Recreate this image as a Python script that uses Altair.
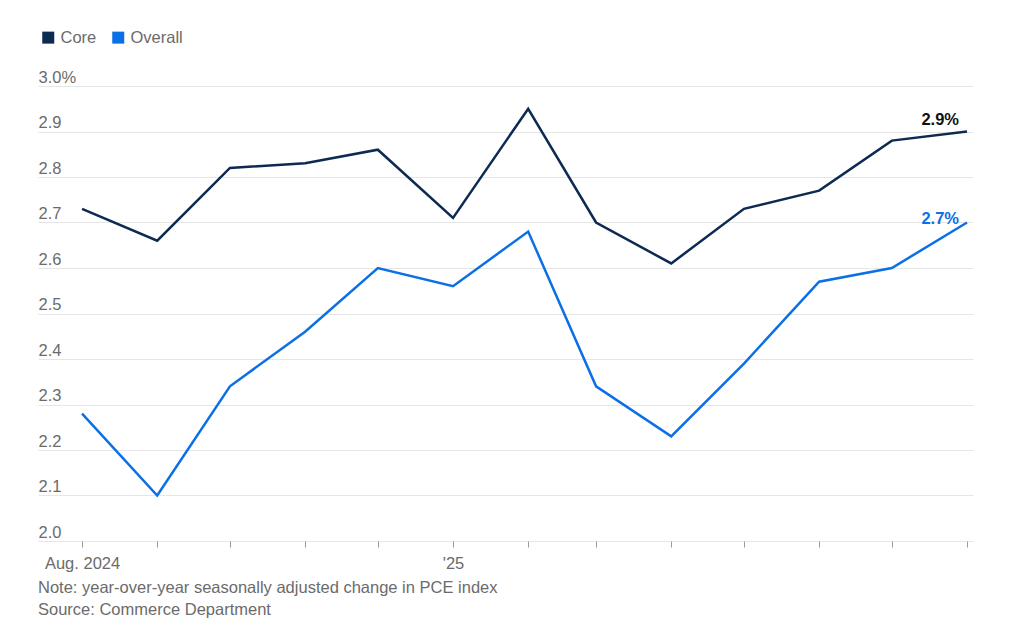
import altair as alt
import pandas as pd

# ---- data ----
months = ["2024-08-01", "2024-09-01", "2024-10-01", "2024-11-01", "2024-12-01",
          "2025-01-01", "2025-02-01", "2025-03-01", "2025-04-01", "2025-05-01",
          "2025-06-01", "2025-07-01", "2025-08-01"]
core = [2.73, 2.66, 2.82, 2.83, 2.86, 2.71, 2.95, 2.70, 2.61, 2.73, 2.77, 2.88, 2.90]
overall = [2.28, 2.10, 2.34, 2.46, 2.60, 2.56, 2.68, 2.34, 2.23, 2.39, 2.57, 2.60, 2.70]
series_names = ["Core", "Overall"]
series_colors = ["#0c2a52", "#0b6fe6"]
y_ticks = [2.0, 2.1, 2.2, 2.3, 2.4, 2.5, 2.6, 2.7, 2.8, 2.9, 3.0]
note_lines = ["Note: year-over-year seasonally adjusted change in PCE index",
              "Source: Commerce Department"]

FONT = "Liberation Sans"
GRAY = "#6b6b6b"
FS = 16.5

rows = []
for m, c, o in zip(months, core, overall):
    rows.append({"date": m, "value": c, "series": "Core"})
    rows.append({"date": m, "value": o, "series": "Overall"})
df = pd.DataFrame(rows)

core_last = pd.DataFrame({"date": [months[-1]], "value": [core[-1]]})
overall_last = pd.DataFrame({"date": [months[-1]], "value": [overall[-1]]})

tick_ms = [int(pd.Timestamp(m, tz="UTC").value // 10**6) for m in months]

x_domain = [alt.DateTime(year=2024, month=7, date=13, hours=20, utc=True),
            alt.DateTime(year=2025, month=8, date=3, hours=11, utc=True)]

x_enc = alt.X(
    "date:T",
    scale=alt.Scale(type="utc", domain=x_domain),
    axis=alt.Axis(
        values=tick_ms,
        labelExpr="utcyear(datum.value) == 2024 && utcmonth(datum.value) == 7 ? 'Aug. 2024' : (utcmonth(datum.value) == 0 ? \"'25\" : '')",
        grid=False, domain=False, ticks=True, tickSize=6, tickWidth=1, tickColor="#9a9a9a",
        labelFontSize=FS, labelFont=FONT, labelColor=GRAY, labelPadding=8,
        labelFlush=False, labelOverlap=False, title=None,
    ),
)
y_enc = alt.Y(
    "value:Q",
    scale=alt.Scale(domain=[2.0, 3.0], nice=False, zero=False),
    axis=alt.Axis(
        values=y_ticks,
        labelExpr="datum.value == 3 ? '3.0%' : format(datum.value, '.1f')",
        grid=True, gridColor="#e6e6e6", gridWidth=1, domain=False, ticks=False, tickSize=0,
        labelAlign="left", labelBaseline="alphabetic", labelOffset=-4, labelPadding=0,
        labelFontSize=FS, labelFont=FONT, labelColor=GRAY, labelFlush=False, title=None,
    ),
)

lines = alt.Chart(df).mark_line(strokeWidth=2.5).encode(
    x=x_enc,
    y=y_enc,
    color=alt.Color(
        "series:N",
        scale=alt.Scale(domain=series_names, range=series_colors),
        legend=alt.Legend(
            orient="none", legendX=2, legendY=-57, direction="horizontal", title=None,
            symbolType="square", symbolSize=36, symbolStrokeWidth=6,
            labelFontSize=FS, labelFont=FONT, labelColor=GRAY, labelOffset=4,
            columnPadding=6, padding=0,
        ),
    ),
)

label_calc = "format(datum.value, '.1f') + '%'"
core_text = alt.Chart(core_last).transform_calculate(label=label_calc).mark_text(
    align="right", baseline="alphabetic", dx=-8, dy=-7, fontSize=FS, fontWeight="bold",
    font=FONT, color="#111111",
).encode(x="date:T", y="value:Q", text="label:N")

overall_text = alt.Chart(overall_last).transform_calculate(label=label_calc).mark_text(
    align="right", baseline="alphabetic", dx=-8, dy=1, fontSize=FS, fontWeight="bold",
    font=FONT, color=series_colors[1],
).encode(x="date:T", y="value:Q", text="label:N")

chart = alt.layer(lines, core_text, overall_text).properties(
    width=935,
    height=455,
    background="white",
    autosize=alt.AutoSizeParams(type="none"),
    padding={"left": 30, "top": 78, "right": 29, "bottom": 89},
    title=alt.TitleParams(
        text=note_lines, orient="bottom", anchor="start", fontSize=FS, font=FONT,
        fontWeight="normal", color=GRAY, lineHeight=22, offset=8,
    ),
).configure_view(stroke=None)

chart.save("out.html", embed_options={"renderer": "svg", "actions": False})
